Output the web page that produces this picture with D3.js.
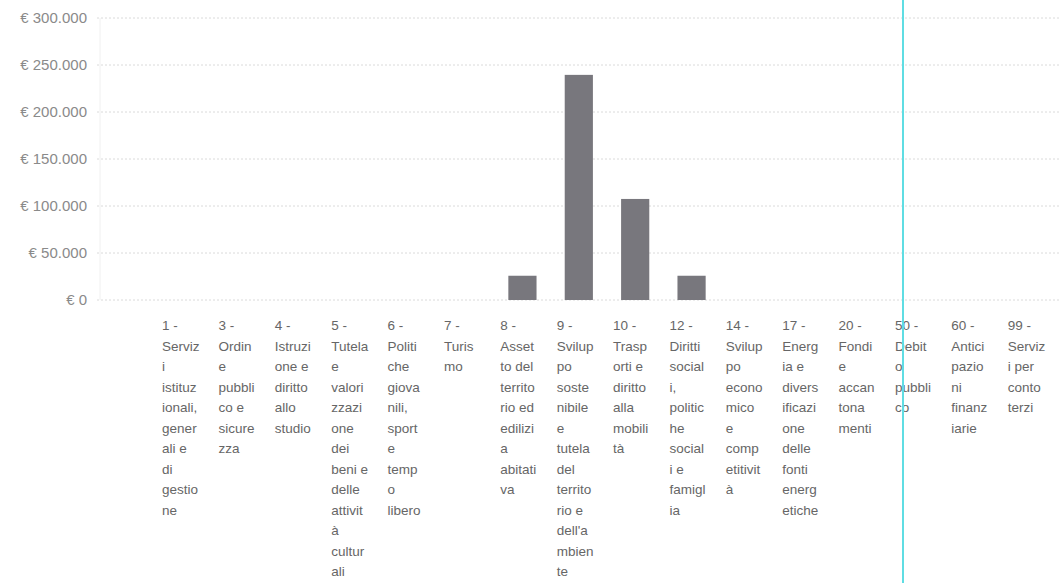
<!DOCTYPE html>
<html><head><meta charset="utf-8">
<script src="https://cdn.jsdelivr.net/npm/d3@7"></script>
<style>
html,body{margin:0;padding:0;background:#fff;}
svg{display:block;}
text{font-family:"Liberation Sans",Arial,sans-serif;}
</style></head>
<body>
<svg id="chart" width="1059" height="583"></svg>
<script>
const categories = ["1","3","4","5","6","7","8","9","10","12","14","17","20","50","60","99"];
const seriesValues = [0,0,0,0,0,0,25800,239500,107500,25800,0,0,0,0,0,0];
const tickValues = [0,50000,100000,150000,200000,250000,300000];
const tickLabels = ["€ 0","€ 50.000","€ 100.000","€ 150.000","€ 200.000","€ 250.000","€ 300.000"];
const labelLines = [
  ["1 -","Serviz","i","istituz","ionali,","gener","ali e","di","gestio","ne"],
  ["3 -","Ordin","e","pubbli","co e","sicure","zza"],
  ["4 -","Istruzi","one e","diritto","allo","studio"],
  ["5 -","Tutela","e","valori","zzazi","one","dei","beni e","delle","attivit","à","cultur","ali"],
  ["6 -","Politi","che","giova","nili,","sport","e","temp","o","libero"],
  ["7 -","Turis","mo"],
  ["8 -","Asset","to del","territo","rio ed","edilizi","a","abitati","va"],
  ["9 -","Svilup","po","soste","nibile","e","tutela","del","territo","rio e","dell'a","mbien","te"],
  ["10 -","Trasp","orti e","diritto","alla","mobili","tà"],
  ["12 -","Diritti","social","i,","politic","he","social","i e","famigl","ia"],
  ["14 -","Svilup","po","econo","mico","e","comp","etitivit","à"],
  ["17 -","Energ","ia e","divers","ificazi","one","delle","fonti","energ","etiche"],
  ["20 -","Fondi","e","accan","tona","menti"],
  ["50 -","Debit","o","pubbli","co"],
  ["60 -","Antici","pazio","ni","finanz","iarie"],
  ["99 -","Serviz","i per","conto","terzi"]
];

const svg = d3.select("#chart");
const x = d3.scaleBand().domain(categories).range([156,1058]).paddingInner(0.5).paddingOuter(0.25);
const y = d3.scaleLinear().domain([0,300000]).range([300,18]);

// gridlines
svg.append("g").selectAll("line").data(tickValues).join("line")
  .attr("x1",97).attr("x2",1059)
  .attr("y1",d=>y(d)).attr("y2",d=>y(d))
  .attr("stroke","#dadada").attr("stroke-width",1).attr("stroke-dasharray","2,2");
svg.append("line").attr("x1",100).attr("x2",100).attr("y1",y(300000)).attr("y2",y(0))
  .attr("stroke","#f0f0f0").attr("stroke-width",1);

// y axis
const yAxis = d3.axisLeft(y).tickValues(tickValues).tickSize(0).tickPadding(0)
  .tickFormat((d,i)=>tickLabels[i]);
const ga = svg.append("g").attr("transform","translate(87,0)").call(yAxis);
ga.select(".domain").remove();
ga.selectAll("text").attr("fill","#8a8a8a").style("font-size","15px")
  .style("font-family","'Liberation Sans',Arial,sans-serif");

// bars
svg.append("g").selectAll("rect").data(categories.map((c,i)=>({c,v:seriesValues[i]})).filter(d=>d.v>0)).join("rect")
  .attr("x",d=>x(d.c)).attr("width",x.bandwidth())
  .attr("y",d=>y(d.v)).attr("height",d=>y(0)-y(d.v))
  .attr("fill","#78777d");

// category labels
const gl = svg.append("g");
categories.forEach((c,i)=>{
  const t = gl.append("text").attr("x",x(c)-8).attr("y",330)
    .attr("fill","#666666").style("font-size","13.5px");
  labelLines[i].forEach((ln,j)=>{
    t.append("tspan").attr("x",x(c)-8).attr("y",330+j*20.5).text(ln);
  });
});

// cyan vertical line artifact
svg.append("line").attr("x1",903).attr("x2",903).attr("y1",0).attr("y2",583)
  .attr("stroke","#5fdde3").attr("stroke-width",2);
</script>
</body></html>
